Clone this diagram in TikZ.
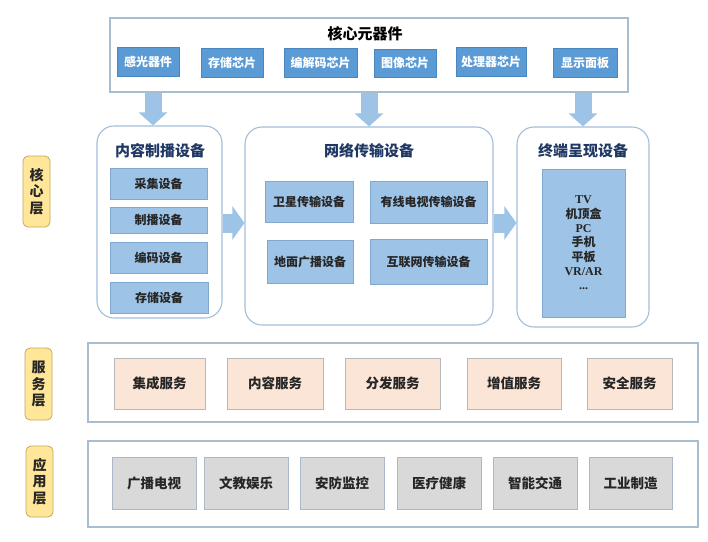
\documentclass[tikz,border=0pt]{standalone}
\usepackage{fontspec}
\setmainfont{Noto Sans CJK SC}
\newfontfamily\serf{Liberation Serif}
\usetikzlibrary{arrows.meta}
\definecolor{chipblue}{HTML}{5B9BD5}
\definecolor{chipedge}{HTML}{4A86BE}
\definecolor{lblue}{HTML}{9DC3E6}
\definecolor{lbedge}{HTML}{7FA9D1}
\definecolor{outeredge}{HTML}{A9BDD0}
\definecolor{roundedge}{HTML}{A2BED8}
\definecolor{navy}{HTML}{1F3864}
\definecolor{peach}{HTML}{FBE5D6}
\definecolor{peachedge}{HTML}{B8B8B8}
\definecolor{appgray}{HTML}{D9D9D9}
\definecolor{appedge}{HTML}{A9B9C9}
\definecolor{labfill}{HTML}{FFE699}
\definecolor{labedge}{HTML}{C9A85A}
\definecolor{arrowc}{HTML}{9DC3E6}
\tikzset{
  outerbox/.style={draw=outeredge, line width=1.1pt, fill=white, inner sep=0pt},
  chip/.style={fill=chipblue, draw=chipedge, line width=0.6pt, text=white, inner sep=0pt,
    font=\bfseries\fontsize{12}{14}\selectfont},
  subbox/.style={fill=lblue, draw=lbedge, line width=0.6pt, text=black!85, inner sep=0pt,
    font=\bfseries\fontsize{12}{14}\selectfont},
  rbox/.style={draw=roundedge, line width=1.1pt, fill=white, rounded corners=17pt, inner sep=0pt},
  rtitle/.style={text=navy, font=\bfseries\fontsize{15}{17}\selectfont, inner sep=0pt},
  svc/.style={fill=peach, draw=peachedge, line width=0.8pt, text=black!85, inner sep=0pt,
    font=\bfseries\fontsize{13.5}{16}\selectfont},
  appbox/.style={fill=appgray, draw=appedge, line width=0.8pt, text=black!85, inner sep=0pt,
    font=\bfseries\fontsize{13.5}{16}\selectfont},
  layerlab/.style={fill=labfill, draw=labedge, line width=0.8pt, rounded corners=5pt, inner sep=0pt,
    minimum width=27pt, minimum height=71pt, align=center, text=black!85,
    font=\bfseries\fontsize{14}{16.5}\selectfont},
  blockdown/.style={draw=arrowc, line width=17pt,
    -{Triangle[width=28pt,length=13pt,fill=arrowc]}},
  blockright/.style={draw=arrowc, line width=19pt,
    -{Triangle[width=33pt,length=12pt,fill=arrowc]}}
}
\begin{document}
\begin{tikzpicture}[x=1pt,y=-1pt]
\useasboundingbox[fill=white] (0,0) rectangle (708,541);

% top component box
\node[outerbox, minimum width=518pt, minimum height=74pt] (top) at (369,55) {};
\node[font=\bfseries\fontsize{15}{17}\selectfont, inner sep=0pt] (toptitle) at (365,34) {核心元器件};
\node[chip, minimum width=62pt, minimum height=29pt] (c1) at (148,61.5) {感光器件};
\node[chip, minimum width=62pt, minimum height=29pt] (c2) at (232,62.5) {存储芯片};
\node[chip, minimum width=73pt, minimum height=29pt] (c3) at (320.5,62.5) {编解码芯片};
\node[chip, minimum width=62pt, minimum height=28pt] (c4) at (405,63) {图像芯片};
\node[chip, minimum width=70pt, minimum height=29pt] (c5) at (491,61.5) {处理器芯片};
\node[chip, minimum width=64pt, minimum height=29pt] (c6) at (585,62.5) {显示面板};

% core layer rounded boxes
\node[rbox, minimum width=125pt, minimum height=192pt] (cb) at (159.5,222) {};
\node[rbox, minimum width=248pt, minimum height=198pt] (nb) at (369,226) {};
\node[rbox, minimum width=132pt, minimum height=200pt] (tb) at (583,227) {};

\node[rtitle] (cbt) at (160,151) {内容制播设备};
\node[rtitle] (nbt) at (369,151) {网络传输设备};
\node[rtitle] (tbt) at (583,151) {终端呈现设备};

\node[subbox, minimum width=97pt, minimum height=31pt] (s1) at (158.5,183.5) {采集设备};
\node[subbox, minimum width=97pt, minimum height=26pt] (s2) at (158.5,220) {制播设备};
\node[subbox, minimum width=97pt, minimum height=31pt] (s3) at (158.5,257.5) {编码设备};
\node[subbox, minimum width=98pt, minimum height=31pt] (s4) at (159,297.5) {存储设备};

\node[subbox, minimum width=88pt, minimum height=41pt] (n1) at (309,201.5) {卫星传输设备};
\node[subbox, minimum width=86pt, minimum height=43pt] (n2) at (310,261.5) {地面广播设备};
\node[subbox, minimum width=117pt, minimum height=42pt] (n3) at (428.5,202) {有线电视传输设备};
\node[subbox, minimum width=117pt, minimum height=45pt] (n4) at (428.5,261.5) {互联网传输设备};

\node[subbox, minimum width=83pt, minimum height=148pt, align=center,
  font=\bfseries\fontsize{12}{14.3}\selectfont] (term) at (583.5,243)
  {{\serf TV}\\机顶盒\\{\serf PC}\\手机\\平板\\{\serf VR/AR}\\{\serf ...}};

% arrows
\draw[blockdown] (top.south -| cb.north) ++(-6.5,0) coordinate (a1s) -- (a1s |- cb.north);
\draw[blockdown] (top.south -| nb.north) coordinate (a2s) -- (a2s |- nb.north);
\draw[blockdown] (top.south -| tb.north) coordinate (a3s) -- (a3s |- tb.north);
\draw[blockright] (cb.east |- 0,223) coordinate (a4s) -- (a4s -| nb.west);
\draw[blockright] (nb.east |- 0,223) coordinate (a5s) -- (a5s -| tb.west);

% layer labels
\node[layerlab] (l1) at (36.5,191.5) {核\\心\\层};
\node[layerlab, minimum height=72pt] (l2) at (38.5,384) {服\\务\\层};
\node[layerlab] (l3) at (39.5,481.5) {应\\用\\层};

% service layer
\node[outerbox, minimum width=610pt, minimum height=79pt] (sv) at (393,382.5) {};
\node[svc, minimum width=91pt, minimum height=51pt] (v1) at (159.5,383.5) {集成服务};
\node[svc, minimum width=96pt, minimum height=51pt] (v2) at (275,383.5) {内容服务};
\node[svc, minimum width=95pt, minimum height=51pt] (v3) at (392.5,383.5) {分发服务};
\node[svc, minimum width=94pt, minimum height=51pt] (v4) at (514,383.5) {增值服务};
\node[svc, minimum width=85pt, minimum height=51pt] (v5) at (629.5,383.5) {安全服务};

% application layer
\node[outerbox, minimum width=610pt, minimum height=86pt] (ap) at (393,484) {};
\node[appbox, minimum width=84pt, minimum height=52pt] (p1) at (154,483) {广播电视};
\node[appbox, minimum width=84pt, minimum height=52pt] (p2) at (246,483) {文教娱乐};
\node[appbox, minimum width=84pt, minimum height=52pt] (p3) at (342,483) {安防监控};
\node[appbox, minimum width=84pt, minimum height=52pt] (p4) at (439,483) {医疗健康};
\node[appbox, minimum width=84pt, minimum height=52pt] (p5) at (535,483) {智能交通};
\node[appbox, minimum width=83pt, minimum height=52pt] (p6) at (630.5,483) {工业制造};
\end{tikzpicture}
\end{document}
